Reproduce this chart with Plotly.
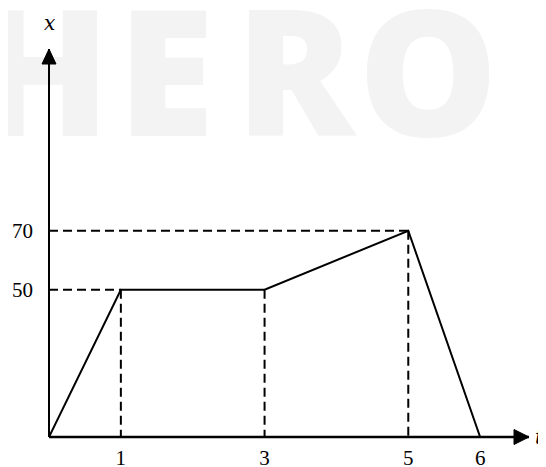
import plotly.graph_objects as go

# ---- data ----
t_vals = [0, 1, 3, 5, 6]
x_vals = [0, 50, 50, 70, 0]
t_tick_vals = [1, 3, 5, 6]
t_tick_text = ["1", "3", "5", "6"]
x_tick_vals = [50, 70]
x_tick_text = ["50", "70"]
guide_t = [1, 3, 5]          # vertical dashed guides
guide_x = [50, 50, 70]
hguide_t = [1, 5]            # horizontal dashed guides
hguide_x = [50, 70]
watermark_letters = ["H", "E", "R", "O"]
watermark_pos = [-0.012, 0.244, 0.5125, 0.79]   # paper x of each letter centre

T_MAX = 6.68
X_MAX = 131.7

fig = go.Figure()

# watermark (below-layer shapes carrying text labels, so it sits behind the drawing)
for ch, px in zip(watermark_letters, watermark_pos):
    fig.add_shape(type="rect", xref="paper", yref="paper", layer="below",
                  x0=px - 0.1, x1=px + 0.1, y0=0.92 - 0.1, y1=0.92 + 0.1,
                  line=dict(width=0), fillcolor="rgba(0,0,0,0)",
                  label=dict(text=ch, textposition="middle center",
                             font=dict(family="Open Sans", size=176, color="#f3f3f3",
                                       weight=800)))

dash = "9px,5px"
for tv, xv in zip(guide_t, guide_x):
    fig.add_trace(go.Scatter(x=[tv, tv], y=[xv, 0], mode="lines",
                             line=dict(color="black", width=2, dash=dash),
                             cliponaxis=False, hoverinfo="skip"))
for tv, xv in zip(hguide_t, hguide_x):
    fig.add_trace(go.Scatter(x=[0, tv], y=[xv, xv], mode="lines",
                             line=dict(color="black", width=2, dash=dash),
                             cliponaxis=False, hoverinfo="skip"))

fig.add_trace(go.Scatter(x=t_vals, y=x_vals, mode="lines",
                         line=dict(color="black", width=2),
                         cliponaxis=False, hoverinfo="skip"))

# axes lines (paper refs so they are not clipped)
fig.add_shape(type="line", xref="paper", yref="paper", x0=0, y0=0, x1=1, y1=0,
              line=dict(color="black", width=2.5))
fig.add_shape(type="line", xref="paper", yref="paper", x0=0, y0=0, x1=0, y1=1,
              line=dict(color="black", width=2))
# arrow heads
fig.add_shape(type="path", xref="paper", yref="paper", xsizemode="pixel", ysizemode="pixel",
              xanchor=1, yanchor=0, path="M -15,7.5 L 0,0 L -15,-7.5 Z",
              fillcolor="black", line=dict(color="black", width=1))
fig.add_shape(type="path", xref="paper", yref="paper", xsizemode="pixel", ysizemode="pixel",
              xanchor=0, yanchor=1, path="M -7,-15 L 0,0 L 7,-15 Z",
              fillcolor="black", line=dict(color="black", width=1))

# axis labels
fig.add_annotation(text="<i>x</i>", xref="x", yref="paper", x=0, y=1, yshift=26,
                   yanchor="middle", xanchor="center",
                   showarrow=False, font=dict(family="DejaVu Serif", size=20, color="black"))
fig.add_annotation(text="<i>t</i>", xref="paper", yref="y", x=1, y=0, xshift=10,
                   showarrow=False, xanchor="center", yanchor="middle",
                   font=dict(family="DejaVu Serif", size=20, color="black"))

serif = dict(family="Liberation Serif", size=21, color="black")
fig.update_xaxes(range=[0, T_MAX], tickvals=t_tick_vals, ticktext=t_tick_text,
                 showgrid=False, zeroline=False, showline=False, ticks="",
                 tickfont=serif, ticklabelstandoff=6, automargin=False)
fig.update_yaxes(range=[0, X_MAX], tickvals=x_tick_vals, ticktext=x_tick_text,
                 showgrid=False, zeroline=False, showline=False, ticks="",
                 tickfont=serif, ticklabelstandoff=15, automargin=False)

fig.update_layout(width=546, height=467, showlegend=False,
                  margin=dict(l=41, r=25, t=41, b=38),
                  paper_bgcolor="white", plot_bgcolor="rgba(0,0,0,0)")

fig.write_html("out.html")
